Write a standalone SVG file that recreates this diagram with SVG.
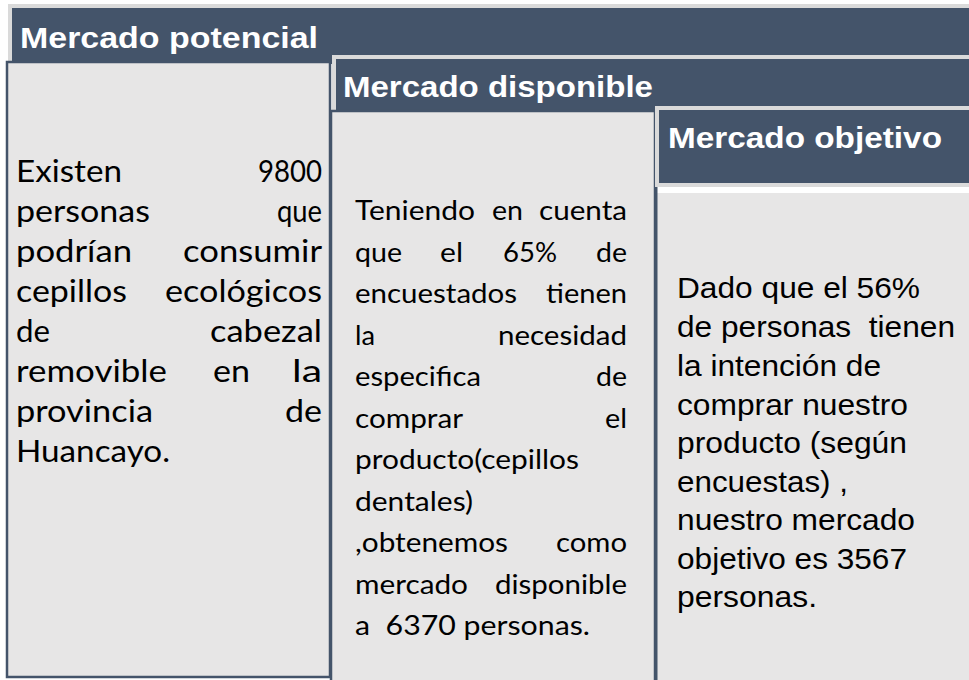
<svg xmlns="http://www.w3.org/2000/svg" width="969" height="680" viewBox="0 0 969 680">
  <style>
    .outline { fill: #DADADA; }
    .head { fill: #44546A; }
    .body { fill: #E7E6E6; stroke: #44546A; stroke-width: 2.5; }
    .plain { fill: #E7E6E6; }
    .edge { stroke: #44546A; stroke-width: 3; fill: none; }
    .ht { font-family: "Liberation Sans", Arial, sans-serif; font-weight: bold; font-size: 29px; fill: #FFFFFF; }
    .t1 { font-family: Lato, "Liberation Sans", sans-serif; font-size: 31px; fill: #000000; }
    .t2 { font-family: Lato, "Liberation Sans", sans-serif; font-size: 27px; fill: #000000; }
    .t3 { font-family: "Liberation Sans", Arial, sans-serif; font-size: 30px; fill: #000000; }
  </style>
  <rect x="0" y="0" width="969" height="680" fill="#FFFFFF"/>
  <g id="connectors"/>

  <g id="potencial-header">
    <rect class="outline" x="8" y="4" width="970" height="60"/>
    <rect class="head" x="12" y="8" width="970" height="56"/>
    <text class="ht" x="20" y="48" textLength="298" lengthAdjust="spacingAndGlyphs">Mercado potencial</text>
  </g>

  <g id="potencial-body">
    <rect class="body" x="7" y="62" width="323" height="615"/>
    <text class="t1" x="16" y="182" textLength="106" lengthAdjust="spacingAndGlyphs">Existen</text>
    <text class="t1" x="258" y="182" textLength="64" lengthAdjust="spacingAndGlyphs">9800</text>
    <text class="t1" x="16" y="222" textLength="134" lengthAdjust="spacingAndGlyphs">personas</text>
    <text class="t1" x="277" y="222" textLength="45" lengthAdjust="spacingAndGlyphs">que</text>
    <text class="t1" x="16" y="262" textLength="116" lengthAdjust="spacingAndGlyphs">podrían</text>
    <text class="t1" x="183" y="262" textLength="139" lengthAdjust="spacingAndGlyphs">consumir</text>
    <text class="t1" x="16" y="302" textLength="111" lengthAdjust="spacingAndGlyphs">cepillos</text>
    <text class="t1" x="165" y="302" textLength="157" lengthAdjust="spacingAndGlyphs">ecológicos</text>
    <text class="t1" x="16" y="342" textLength="34" lengthAdjust="spacingAndGlyphs">de</text>
    <text class="t1" x="210" y="342" textLength="112" lengthAdjust="spacingAndGlyphs">cabezal</text>
    <text class="t1" x="16" y="382" textLength="151" lengthAdjust="spacingAndGlyphs">removible</text>
    <text class="t1" x="213" y="382" textLength="37" lengthAdjust="spacingAndGlyphs">en</text>
    <text class="t1" x="292" y="382" textLength="30" lengthAdjust="spacingAndGlyphs">la</text>
    <text class="t1" x="16" y="422" textLength="137" lengthAdjust="spacingAndGlyphs">provincia</text>
    <text class="t1" x="285" y="422" textLength="37" lengthAdjust="spacingAndGlyphs">de</text>
    <text class="t1" x="16" y="462" textLength="154" lengthAdjust="spacingAndGlyphs">Huancayo.</text>
  </g>

  <g id="disponible-header">
    <rect class="outline" x="332" y="55" width="640" height="60"/>
    <rect class="head" x="336" y="59" width="640" height="56"/>
    <text class="ht" x="343" y="97" textLength="310" lengthAdjust="spacingAndGlyphs">Mercado disponible</text>
  </g>

  <g id="disponible-body">
    <rect class="body" x="331" y="111" width="324" height="600"/>
    <text class="t2" x="355" y="220" textLength="120" lengthAdjust="spacingAndGlyphs">Teniendo</text>
    <text class="t2" x="492" y="220" textLength="31" lengthAdjust="spacingAndGlyphs">en</text>
    <text class="t2" x="539" y="220" textLength="88" lengthAdjust="spacingAndGlyphs">cuenta</text>
    <text class="t2" x="355" y="261.5" textLength="47" lengthAdjust="spacingAndGlyphs">que</text>
    <text class="t2" x="440" y="261.5" textLength="23" lengthAdjust="spacingAndGlyphs">el</text>
    <text class="t2" x="503" y="261.5" textLength="54" lengthAdjust="spacingAndGlyphs">65%</text>
    <text class="t2" x="596" y="261.5" textLength="31" lengthAdjust="spacingAndGlyphs">de</text>
    <text class="t2" x="355" y="303" textLength="162" lengthAdjust="spacingAndGlyphs">encuestados</text>
    <text class="t2" x="546" y="303" textLength="81" lengthAdjust="spacingAndGlyphs">tienen</text>
    <text class="t2" x="355" y="344.5" textLength="20" lengthAdjust="spacingAndGlyphs">la</text>
    <text class="t2" x="498" y="344.5" textLength="129" lengthAdjust="spacingAndGlyphs">necesidad</text>
    <text class="t2" x="355" y="386" textLength="126" lengthAdjust="spacingAndGlyphs">especifica</text>
    <text class="t2" x="596" y="386" textLength="31" lengthAdjust="spacingAndGlyphs">de</text>
    <text class="t2" x="355" y="427.5" textLength="108" lengthAdjust="spacingAndGlyphs">comprar</text>
    <text class="t2" x="605" y="427.5" textLength="22" lengthAdjust="spacingAndGlyphs">el</text>
    <text class="t2" x="355" y="469" textLength="224" lengthAdjust="spacingAndGlyphs">producto(cepillos</text>
    <text class="t2" x="355" y="510.5" textLength="118" lengthAdjust="spacingAndGlyphs">dentales)</text>
    <text class="t2" x="355" y="552" textLength="153" lengthAdjust="spacingAndGlyphs">,obtenemos</text>
    <text class="t2" x="556" y="552" textLength="71" lengthAdjust="spacingAndGlyphs">como</text>
    <text class="t2" x="355" y="593.5" textLength="113" lengthAdjust="spacingAndGlyphs">mercado</text>
    <text class="t2" x="495" y="593.5" textLength="132" lengthAdjust="spacingAndGlyphs">disponible</text>
    <text class="t2" x="355" y="635" textLength="235" lengthAdjust="spacingAndGlyphs" xml:space="preserve">a  6370 personas.</text>
  </g>

  <g id="objetivo-header">
    <rect class="outline" x="655" y="106" width="320" height="81"/>
    <rect class="head" x="659" y="110" width="320" height="73"/>
    <text class="ht" x="668" y="148" textLength="274" lengthAdjust="spacingAndGlyphs">Mercado objetivo</text>
  </g>

  <g id="objetivo-body">
    <rect class="plain" x="656" y="193" width="320" height="500"/>
    <line class="edge" x1="656" y1="187" x2="656" y2="680"/>
    <text class="t3" x="677" y="298" textLength="243" lengthAdjust="spacingAndGlyphs">Dado que el 56%</text>
    <text class="t3" x="677" y="337" textLength="278" lengthAdjust="spacingAndGlyphs" xml:space="preserve">de personas  tienen</text>
    <text class="t3" x="677" y="376" textLength="204" lengthAdjust="spacingAndGlyphs">la intención de</text>
    <text class="t3" x="677" y="415" textLength="231" lengthAdjust="spacingAndGlyphs">comprar nuestro</text>
    <text class="t3" x="677" y="453" textLength="230" lengthAdjust="spacingAndGlyphs">producto (según</text>
    <text class="t3" x="677" y="492" textLength="171" lengthAdjust="spacingAndGlyphs">encuestas) ,</text>
    <text class="t3" x="677" y="530" textLength="238" lengthAdjust="spacingAndGlyphs">nuestro mercado</text>
    <text class="t3" x="677" y="569" textLength="230" lengthAdjust="spacingAndGlyphs">objetivo es 3567</text>
    <text class="t3" x="677" y="607" textLength="140" lengthAdjust="spacingAndGlyphs">personas.</text>
  </g>
</svg>
